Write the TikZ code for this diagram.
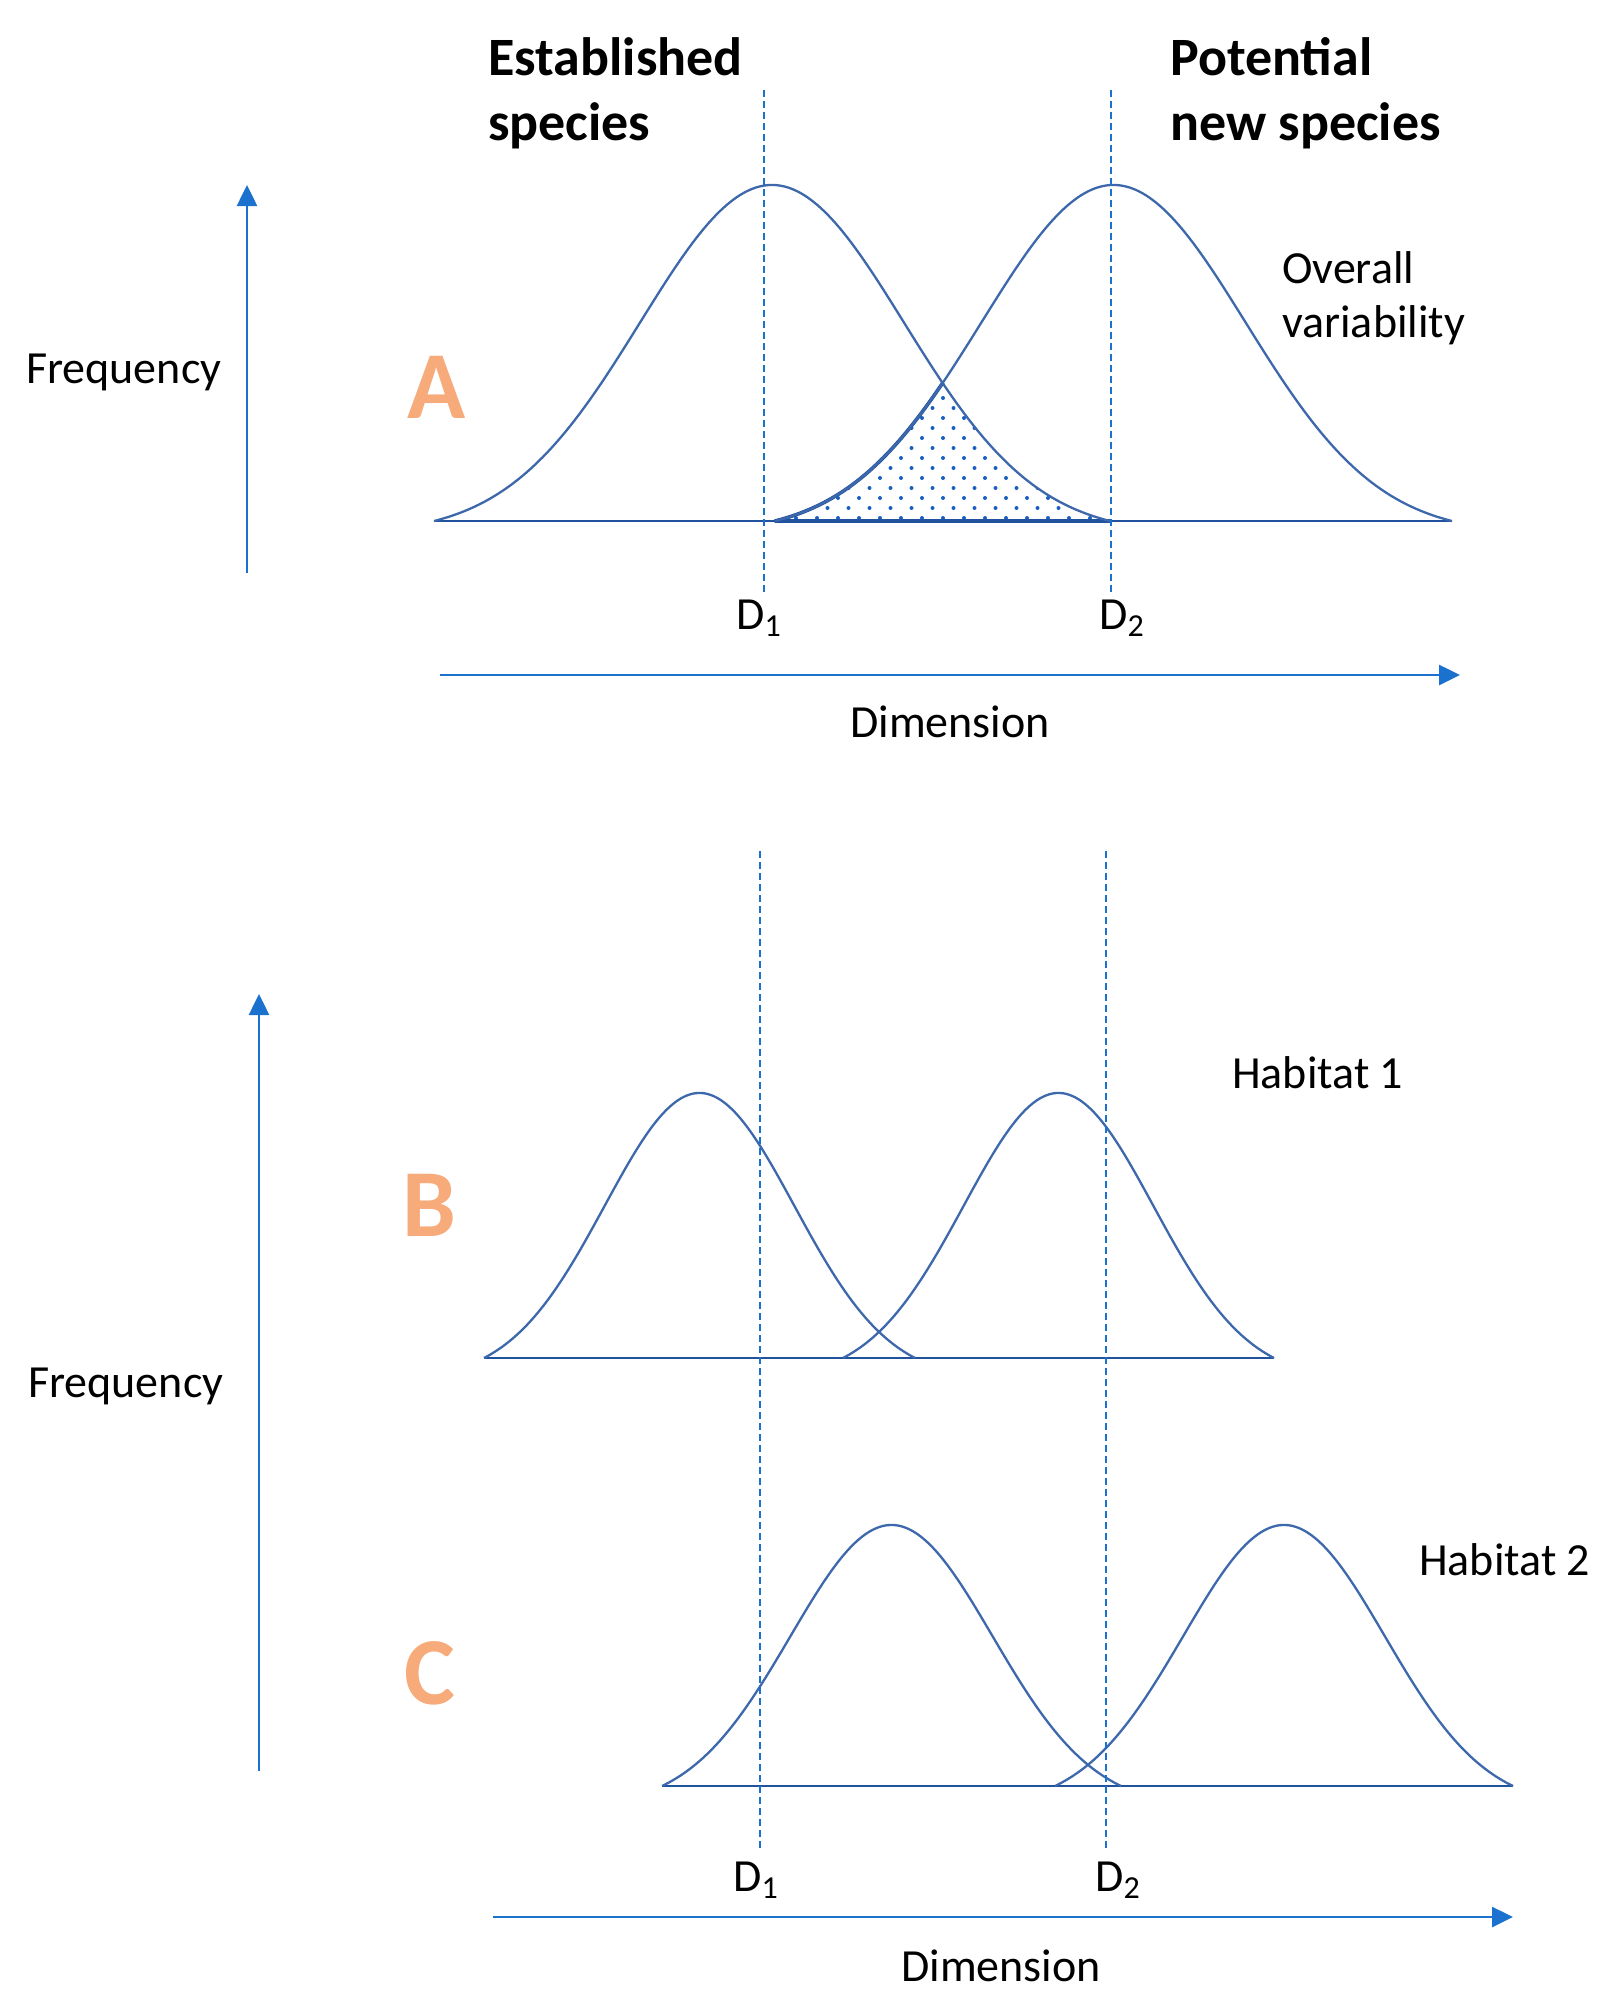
\documentclass[tikz,border=0pt]{standalone}
\usepackage{fontspec}
\setmainfont{Carlito}
\usetikzlibrary{arrows.meta}
\definecolor{curvecol}{RGB}{62,104,172}
\definecolor{basecol}{RGB}{32,82,158}
\definecolor{axiscol}{RGB}{26,114,206}
\definecolor{lettercol}{RGB}{247,170,122}
\definecolor{dotcol}{RGB}{25,95,195}
\newcommand\dsub[1]{\raisebox{-7pt}{\fontsize{32}{32}\selectfont #1}}
\begin{document}
\begin{tikzpicture}[x=1pt,y=-1pt,
  declare function={gauss(\q,\w)=(exp(-(\q*\q)/(2*\w*\w))-exp(-1/(2*\w*\w)))/(1-exp(-1/(2*\w*\w)));},
  curve/.style={draw=curvecol, line width=2.3pt},
  baseln/.style={draw=basecol, line width=2.8pt},
  hatchedge/.style={draw=basecol, line width=3.6pt, line join=round},
  axis/.style={draw=axiscol, line width=2.6pt, -{Triangle[length=21pt,width=20pt]}},
  dline/.style={draw=axiscol, line width=2pt, dash pattern=on 7pt off 4pt},
  lbl/.style={inner sep=0pt, anchor=base west, font=\fontsize{46}{56}\selectfont},
  ttl/.style={inner sep=0pt, anchor=base west, font=\fontsize{54}{66}\selectfont\bfseries},
  panel/.style={inner sep=0pt, anchor=base west, text=lettercol, font=\fontsize{96}{96}\selectfont\bfseries}]

\useasboundingbox (0,0) rectangle (1623,1998);

% ---------------- Panel A ----------------
\coordinate (bA0) at (434,521);
\coordinate (bA1) at (1452,521);
\draw[baseln] (bA0) -- (bA1);

% hatched overlap
\begin{scope}
\clip plot[domain=775:943,samples=80] (\x,{521-336*gauss((2*\x-775-1452)/(1452-775),0.39)})
  -- plot[domain=943:1110,samples=80] (\x,{521-336*gauss((2*\x-434-1110)/(1110-434),0.39)}) -- cycle;
\foreach \i in {0,...,15}{\foreach \j in {0,...,16}{
  \fill[dotcol] ({775+21*\j+10.5*mod(\i,2)},{518-10*\i}) circle[radius=2pt];}}
\end{scope}
\draw[hatchedge] plot[domain=943:775,samples=80] (\x,{521-336*gauss((2*\x-775-1452)/(1452-775),0.39)}) -- (1110,521);

\draw[curve] plot[domain=434:1110,samples=200] (\x,{521-336*gauss((2*\x-434-1110)/(1110-434),0.39)});
\draw[curve] plot[domain=775:1452,samples=200] (\x,{521-336*gauss((2*\x-775-1452)/(1452-775),0.39)});

\coordinate (dA1t) at (764,90);  \coordinate (dA1b) at (764,592);
\coordinate (dA2t) at (1111,90); \coordinate (dA2b) at (1111,592);
\draw[dline] (dA1t) -- (dA1b);
\draw[dline] (dA2t) -- (dA2b);

\coordinate (fA0) at (247,573); \coordinate (fA1) at (247,185);
\draw[axis] (fA0) -- (fA1);
\coordinate (xA0) at (440,675); \coordinate (xA1) at (1460,675);
\draw[axis] (xA0) -- (xA1);

\node[ttl] (est1) at (488,75) {Established};
\node[ttl] (est2) at (488,140) {species};
\node[ttl] (pot1) at (1170,75) {Potential};
\node[ttl] (pot2) at (1170,140) {new species};
\node[lbl] (ov1) at (1282,283) {Overall};
\node[lbl] (ov2) at (1282,337) {variability};
\node[lbl] (freqA) at (26,383) {Frequency};
\node[panel] (pA) at (407,418) {A};
\node[lbl] (d1a) at (736,629) {D\dsub{1}};
\node[lbl] (d2a) at (1099,629) {D\dsub{2}};
\node[lbl] (dimA) at (850,737) {Dimension};

% ---------------- Panel B ----------------
\coordinate (bB0) at (484,1358);
\coordinate (bB1) at (1274,1358);
\draw[baseln] (bB0) -- (bB1);
\draw[curve] plot[domain=484:915,samples=200] (\x,{1358-265*gauss((2*\x-484-915)/(915-484),0.44)});
\draw[curve] plot[domain=843:1274,samples=200] (\x,{1358-265*gauss((2*\x-843-1274)/(1274-843),0.44)});

% ---------------- Panel C ----------------
\coordinate (bC0) at (662,1786);
\coordinate (bC1) at (1513,1786);
\draw[baseln] (bC0) -- (bC1);
\draw[curve] plot[domain=662:1121,samples=200] (\x,{1786-261*gauss((2*\x-662-1121)/(1121-662),0.44)});
\draw[curve] plot[domain=1055:1513,samples=200] (\x,{1786-261*gauss((2*\x-1055-1513)/(1513-1055),0.44)});

\coordinate (dB1t) at (760,851);  \coordinate (dB1b) at (760,1850);
\coordinate (dB2t) at (1106,851); \coordinate (dB2b) at (1106,1850);
\draw[dline] (dB1t) -- (dB1b);
\draw[dline] (dB2t) -- (dB2b);

\coordinate (fB0) at (259,1771); \coordinate (fB1) at (259,994);
\draw[axis] (fB0) -- (fB1);
\coordinate (xB0) at (493,1917); \coordinate (xB1) at (1513,1917);
\draw[axis] (xB0) -- (xB1);

\node[lbl] (hab1) at (1232,1088) {Habitat 1};
\node[lbl] (hab2) at (1419,1575) {Habitat 2};
\node[lbl] (freqB) at (28,1397) {Frequency};
\node[panel] (pB) at (402,1236) {B};
\node[panel] (pC) at (404,1704) {C};
\node[lbl] (d1b) at (733,1891) {D\dsub{1}};
\node[lbl] (d2b) at (1095,1891) {D\dsub{2}};
\node[lbl] (dimB) at (901,1981) {Dimension};
\end{tikzpicture}
\end{document}
